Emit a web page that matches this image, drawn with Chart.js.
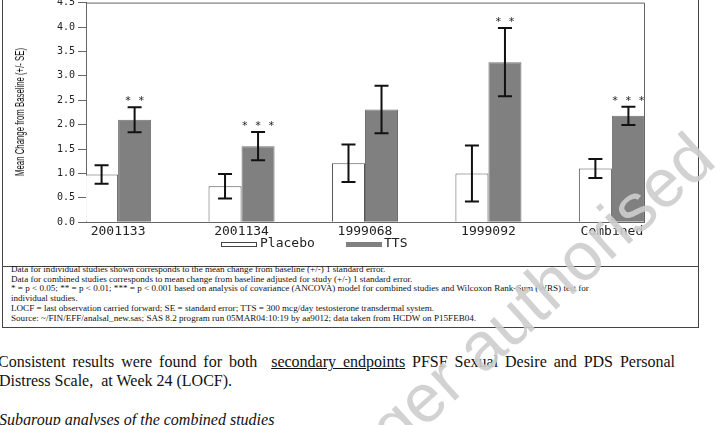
<!DOCTYPE html>
<html>
<head>
<meta charset="utf-8">
<script src="https://cdn.jsdelivr.net/npm/chart.js@4"></script>
<style>
  html, body { margin:0; padding:0; background:#fff; }
  body { width:715px; height:425px; overflow:hidden; position:relative; }
  .abs { position:absolute; }
  #box { left:2px; top:-5px; width:695px; height:331px; border:1px solid #444; }
  #divider { left:2px; top:266px; width:697px; height:0; border-top:1px solid #444; }
  #chartWrap { left:3px; top:-10px; width:695px; height:254px; }
  #ytitle { left:20px; top:112px; width:0; height:0; }
  #ytitle span { position:absolute; left:0; top:0; white-space:nowrap; font:13px "Liberation Sans", sans-serif; color:#111;
    transform:translate(-50%,-50%) rotate(-90deg) scaleX(0.6); line-height:14px; }
  #notes { left:11px; top:265px; font:9.1px "Liberation Serif", serif; line-height:9.7px; color:#111; white-space:pre; }
  .leg { font:13px "DejaVu Sans Mono", monospace; color:#222; line-height:14px; }
  .legbox { width:34px; height:3px; border:1px solid #444; }
  .body { font:16px "Liberation Serif", serif; color:#111; line-height:19px; white-space:nowrap; }
  #p1 { left:-2px; top:352px; width:677px; text-align:justify; text-align-last:justify; white-space:normal; }
  #p2 { left:-1px; top:371px; }
  #p3 { left:-1px; top:410px; font-style:italic; }
  #wm { left:725px; top:171px; width:0; height:0; transform:rotate(-42deg); transform-origin:0 0; }
  #wm span { position:absolute; right:0; bottom:0; white-space:nowrap; font:68px "Liberation Sans", sans-serif; line-height:1; color:rgba(205,205,205,0.9); }
</style>
</head>
<body>
<div id="box" class="abs"></div>
<div id="divider" class="abs"></div>
<div id="chartWrap" class="abs"><canvas id="c"></canvas></div>
<div id="ytitle" class="abs"><span></span></div>
<div id="legend"></div>
<div id="notes" class="abs"></div>
<div id="p1" class="abs body">Consistent results were found for both&nbsp; <u>secondary endpoints</u> PFSF Sexual Desire and PDS Personal</div>
<div id="p2" class="abs body">Distress Scale,&nbsp; at Week 24 (LOCF).</div>
<div id="p3" class="abs body">Subgroup analyses of the combined studies</div>
<div id="wm" class="abs"><span>Medicinal product no longer authorised</span></div>
<script>
// ---- data ----
const categories = ['2001133', '2001134', '1999068', '1999092', 'Combined'];
const seriesNames = ['Placebo', 'TTS'];
const placebo   = [0.98, 0.74, 1.21, 1.00, 1.10];
const placeboSE = [0.19, 0.25, 0.385, 0.575, 0.195];
const tts       = [2.10, 1.56, 2.31, 3.28, 2.18];
const ttsSE     = [0.255, 0.29, 0.485, 0.70, 0.185];
const ttsSig    = ['**', '***', '', '**', '***'];
const yTicks    = [0, 0.5, 1, 1.5, 2, 2.5, 3, 3.5, 4, 4.5];
const yTitle    = 'Mean Change from Baseline (+/- SE)';
const noteLines = [
  'Data for individual studies shown corresponds to the mean change from baseline (+/-) 1 standard error.',
  'Data for combined studies corresponds to mean change from baseline adjusted for study (+/-) 1 standard error.',
  '* = p < 0.05; ** = p < 0.01; *** = p < 0.001 based on analysis of covariance (ANCOVA) model for combined studies and Wilcoxon Rank-Sum (WRS) test for',
  'individual studies.',
  'LOCF = last observation carried forward; SE = standard error; TTS = 300 mcg/day testosterone transdermal system.',
  'Source: ~/FIN/EFF/analsal_new.sas; SAS 8.2 program run 05MAR04:10:19 by aa9012; data taken from HCDW on P15FEB04.'
];

document.getElementById('notes').textContent = noteLines.join('\n');
document.querySelector('#ytitle span').textContent = yTitle;

const colors = { placeboFill:'#ffffff', placeboBorder:'#555555', ttsFill:'#808080', ttsBorder:'#707070' };

// HTML legend
(function(){
  const leg = document.getElementById('legend');
  const items = [
    {name: seriesNames[0], fill: colors.placeboFill, border:'#444', bx:221, tx:260},
    {name: seriesNames[1], fill: colors.ttsFill, border:colors.ttsFill, bx:346, tx:384}
  ];
  items.forEach(it => {
    const b = document.createElement('div');
    b.className = 'abs legbox';
    b.style.left = it.bx + 'px'; b.style.top = '241.5px';
    b.style.background = it.fill; b.style.borderColor = it.border;
    leg.appendChild(b);
    const t = document.createElement('div');
    t.className = 'abs leg';
    t.style.left = it.tx + 'px'; t.style.top = '236px';
    t.textContent = it.name;
    leg.appendChild(t);
  });
})();

const errorBars = {
  id: 'errorBars',
  afterDatasetsDraw(chart) {
    const ctx = chart.ctx, y = chart.scales.y;
    chart.data.datasets.forEach((ds, di) => {
      const meta = chart.getDatasetMeta(di);
      meta.data.forEach((bar, i) => {
        const v = ds.data[i].y, e = ds.errors[i];
        const yt = y.getPixelForValue(v + e), yb = y.getPixelForValue(v - e);
        ctx.save();
        ctx.strokeStyle = '#111'; ctx.lineWidth = 2;
        ctx.beginPath();
        ctx.moveTo(bar.x, yt); ctx.lineTo(bar.x, yb);
        ctx.moveTo(bar.x - 7, yt); ctx.lineTo(bar.x + 7, yt);
        ctx.moveTo(bar.x - 7, yb); ctx.lineTo(bar.x + 7, yb);
        ctx.stroke();
        if (ds.sig && ds.sig[i]) {
          ctx.fillStyle = '#222';
          ctx.font = '11px "DejaVu Sans Mono", monospace';
          ctx.textAlign = 'center'; ctx.textBaseline = 'middle';
          ctx.fillText(ds.sig[i].split('').join(' '), bar.x, yt - 6);
        }
        ctx.restore();
      });
    });
  }
};

const frame = {
  id: 'frame',
  afterDraw(chart) {
    const {ctx, chartArea: a} = chart;
    ctx.save();
    ctx.strokeStyle = '#666'; ctx.lineWidth = 1;
    ctx.beginPath();
    ctx.moveTo(a.left, a.top + 0.5); ctx.lineTo(a.right + 0.5, a.top + 0.5);
    ctx.lineTo(a.right + 0.5, a.bottom);
    ctx.stroke();
    ctx.restore();
  }
};

new Chart(document.getElementById('c'), {
  type: 'bar',
  data: {
    datasets: [
      { label: seriesNames[0], data: categories.map((c, i) => ({x: i, y: placebo[i]})), errors: placeboSE,
        backgroundColor: colors.placeboFill, borderColor: colors.placeboBorder, borderWidth: 1 },
      { label: seriesNames[1], data: categories.map((c, i) => ({x: i, y: tts[i]})), errors: ttsSE, sig: ttsSig,
        backgroundColor: colors.ttsFill, borderColor: colors.ttsBorder, borderWidth: 1 }
    ]
  },
  options: {
    responsive: true, maintainAspectRatio: false, animation: false,
    layout: { padding: { left: 0, right: 54, top: 12.6, bottom: 0 } },
    datasets: { bar: { categoryPercentage: 0.535, barPercentage: 1.0 } },
    plugins: { legend: { display: false }, tooltip: { enabled: false } },
    scales: {
      x: {
        type: 'linear', min: -0.26, max: 4.26, offset: false,
        afterBuildTicks: s => { s.ticks = categories.map((c, i) => ({ value: i })); },
        afterFit: s => { s.height = 21.7; },
        grid: { display: false, drawTicks: false, offset: false },
        border: { display: true, color: '#666' },
        ticks: { autoSkip: false, maxRotation: 0, padding: 2, color: '#222',
          font: { family: '"DejaVu Sans Mono", monospace', size: 13 },
          callback: v => categories[Math.round(v)] }
      },
      y: {
        min: 0, max: 4.5,
        afterBuildTicks: s => { s.ticks = yTicks.map(v => ({ value: v })); },
        afterFit: s => { s.width = 83; },
        grid: { drawOnChartArea: false, drawTicks: true, tickLength: 8, color: '#666' },
        border: { display: true, color: '#666' },
        ticks: { padding: 3, color: '#222', font: { family: '"DejaVu Sans Mono", monospace', size: 10 },
          callback: v => Number(v).toFixed(1) },
        title: { display: false }
      }
    }
  },
  plugins: [errorBars, frame]
});
</script>
</body>
</html>
